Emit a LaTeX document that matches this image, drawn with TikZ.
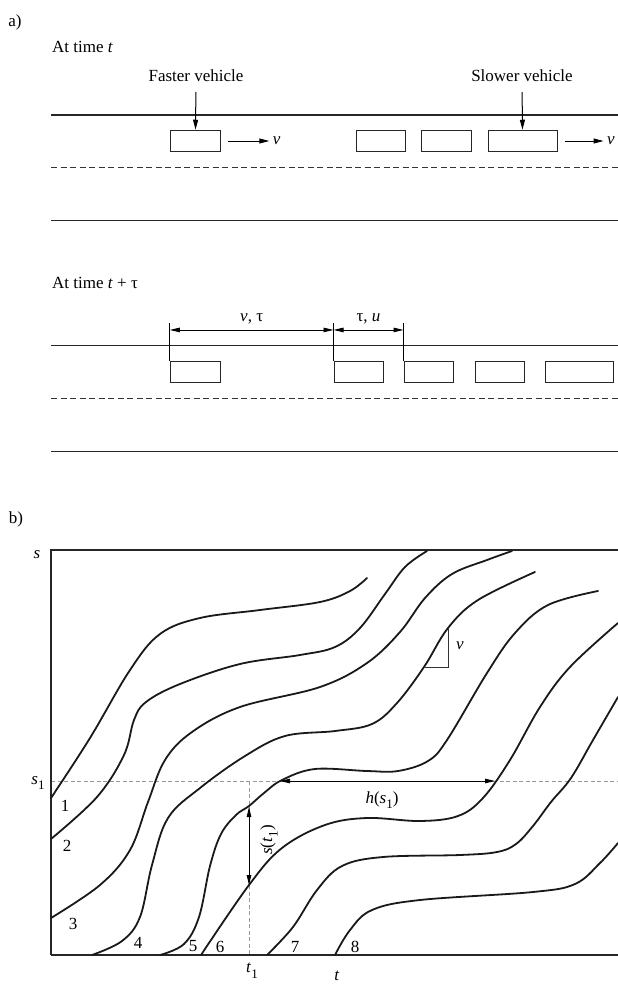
\documentclass[tikz,border=0pt]{standalone}
\usepackage{fontspec}
\setmainfont{Liberation Serif}
\usetikzlibrary{arrows.meta}
\newcommand\subsc[1]{\raisebox{-0.33em}{\fontsize{13}{14}\selectfont #1}}
\tikzset{
  lbl/.style={font=\fontsize{17}{20}\selectfont, inner sep=2pt},
  road/.style={line width=1.3pt, draw=black!85},
  lane/.style={line width=1pt, dash pattern=on 6pt off 3.5pt, draw=black!80},
  car/.style={draw=black!85, line width=1pt, rectangle, minimum height=21.5pt, inner sep=0pt},
  arr/.style={line width=1pt, -{Triangle[length=10pt,width=5pt]}},
  dimarr/.style={line width=0.9pt, {Triangle[length=10pt,width=4.5pt]}-{Triangle[length=10pt,width=4.5pt]}},
  tick/.style={line width=0.8pt},
  traj/.style={line width=1.8pt, draw=black!90, line cap=round},
  guide/.style={draw=black!40, line width=0.8pt, dash pattern=on 4pt off 2.5pt},
  frame/.style={line width=1.3pt, draw=black!85},
}
\begin{document}
\begin{tikzpicture}[x=1pt,y=-1pt]
\useasboundingbox (0,0) rectangle (618,985);
% ---------- part a, time t ----------
\node[lbl] (la) at (15,22) {a)};
\node[lbl, anchor=west] (ta) at (50,47) {At time \textit{t}};
\node[lbl, anchor=south] (fv) at (196,84) {Faster vehicle};
\node[lbl, anchor=south] (sv) at (522,84) {Slower vehicle};
\draw[road] (51,115) -- (618,115);
\draw[lane] (51,167.7) -- (618,167.7);
\draw[road] (51,220.7) -- (618,220.7);
\node[car, minimum width=50.5pt] (a1) at (195.5,141) {};
\node[car, minimum width=49.3pt] (a2) at (381.3,141) {};
\node[car, minimum width=50pt]   (a3) at (446.8,141) {};
\node[car, minimum width=69pt]   (a4) at (522.5,141) {};
\draw[arr, shorten <=8pt] (fv.south) -- (a1.north);
\draw[arr, shorten <=8pt] (sv.south) -- (a4.north);
\draw[arr] ([xshift=7pt]a1.east) -- ++(41,0) node[lbl, right, inner sep=3pt] (va) {\textit{v}};
\draw[arr] ([xshift=7pt]a4.east) -- ++(39,0) node[lbl, right, inner sep=3pt] (vb) {\textit{v}};
% ---------- part a, time t + tau ----------
\node[lbl, anchor=west] (tb) at (50,283) {At time \textit{t} + τ};
\draw[road] (51,345.7) -- (618,345.7);
\draw[lane] (51,398.7) -- (618,398.7);
\draw[road] (51,451.7) -- (618,451.7);
\node[car, minimum width=50.4pt] (d1) at (195.5,372.2) {};
\node[car, minimum width=49pt]   (d2) at (358.5,372.2) {};
\node[car, minimum width=49pt]   (d3) at (428.5,372.2) {};
\node[car, minimum width=49pt]   (d4) at (499.5,372.2) {};
\node[car, minimum width=68.7pt] (d5) at (579.4,372.2) {};
\draw[tick] (d1.north west) -- ++(0,-38);
\draw[tick] (d2.north west) -- ++(0,-38);
\draw[tick] (d3.north west) -- ++(0,-38);
\path (d1.north west) ++(0,-31) coordinate (m1);
\path (d2.north west) ++(0,-31) coordinate (m2);
\path (d3.north west) ++(0,-31) coordinate (m3);
\draw[dimarr] (m1) -- node[lbl, above=3pt] (lvt) {\textit{v}, τ} (m2);
\draw[dimarr] (m2) -- node[lbl, above=3pt] (ltu) {τ, \textit{u}} (m3);
% ---------- part b ----------
\node[lbl] (lb) at (16,519) {b)};
\draw[guide] (51,781) -- (618,781);
\draw[guide] (249,781) -- (249,955);
\draw[frame] (618,550) -- (51,550) -- (51,955);
\draw[line width=1.8pt, draw=black!85] (51,955) -- (618,955);
\node[lbl] (ls) at (37,555) {\textit{s}};
\node[lbl] (ls1) at (38,783) {\textit{s}\subsc{1}};
\node[lbl] (lt1) at (252,971) {\textit{t}\subsc{1}};
\node[lbl] (lt) at (337,976) {\textit{t}};
% trajectories
\draw[traj] plot[smooth, tension=0.6] coordinates {(51,798) (90,738) (130,670) (160,634) (200,618) (260,610) (320,602) (350,591) (367,578)};
\draw[traj] plot[smooth, tension=0.6] coordinates {(51,839) (97,797) (124,755) (134,720) (146,702) (180,684) (240,664) (300,655) (335,647) (360,628) (385,594) (405,567) (427,551)};
\draw[traj] plot[smooth, tension=0.6] coordinates {(51,918) (100,885) (130,850) (148,802) (165,760) (192,732) (240,707) (320,687) (367,663) (400,632) (425,598) (452,574) (487,560) (512,551)};
\draw[traj] plot[smooth, tension=0.6] coordinates {(92,955) (122,941) (140,917) (152,865) (168,818) (200,788) (245,756) (285,736) (335,731) (372,724) (397,703) (424,667) (448,628) (478,600) (535,572)};
\draw[traj] plot[smooth, tension=0.6] coordinates {(160,955) (184,944) (199,917) (210,866) (221,834) (236,815) (249,806) (264,793) (282,780) (315,769) (367,771) (398,771) (428,761) (447,740) (487,673) (515,633) (548,605) (598,591)};
\draw[traj] plot[smooth, tension=0.6] coordinates {(201,955) (249,885) (282,848) (325,825) (367,818) (420,821) (458,816) (483,798) (510,760) (540,707) (570,667) (618,623)};
\draw[traj] plot[smooth, tension=0.6] coordinates {(267,955) (293,927) (317,890) (342,866) (383,857) (460,855) (497,852) (516,844) (533,826) (551,802) (571,778) (593,740) (618,697)};
\draw[traj] plot[smooth, tension=0.6] coordinates {(335,955) (350,930) (372,910) (420,900) (533,892) (575,884) (600,863) (618,843)};
% slope triangle
\draw[tick, draw=black!80] (424,667) -- (448,667) -- (448,628);
\node[lbl] (lv) at (460,646) {\textit{v}};
% headway and spacing
\coordinate (h1) at (280,781);
\coordinate (h2) at (495,781);
\draw[dimarr] (h1) -- (h2);
\node[lbl] (lh) at (382,800) {\textit{h}(\textit{s}\subsc{1})};
\coordinate (sa) at (249,807);
\coordinate (sb) at (249,885);
\draw[dimarr] (sa) -- (sb);
\node[lbl, rotate=90] (lst) at (269,840) {\textit{s}(\textit{t}\subsc{1})};
% vehicle numbers
\node[lbl] (n1) at (65,806) {1};
\node[lbl] (n2) at (67,846) {2};
\node[lbl] (n3) at (73,924) {3};
\node[lbl] (n4) at (138,943) {4};
\node[lbl] (n5) at (193,946) {5};
\node[lbl] (n6) at (220,947) {6};
\node[lbl] (n7) at (295,947) {7};
\node[lbl] (n8) at (355,947) {8};
\end{tikzpicture}
\end{document}
